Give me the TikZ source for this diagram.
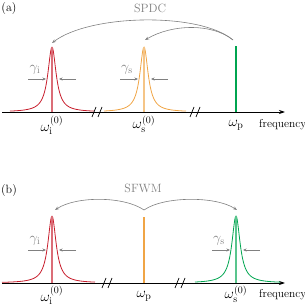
\documentclass[tikz,border=0pt]{standalone}
\usetikzlibrary{arrows.meta}
\definecolor{cidl}{RGB}{200,30,45}
\definecolor{csig}{RGB}{240,165,70}
\definecolor{cpmp}{RGB}{0,165,80}
\begin{document}
\begin{tikzpicture}[x=1pt, y=1pt,
  axis/.style={line width=0.8pt, -{Stealth[length=6pt, width=4pt]}},
  peakline/.style={line width=0.8pt},
  centerline/.style={line width=1.3pt},
  pumpline/.style={line width=2pt},
  gam/.style={gray, line width=0.6pt, -{Stealth[length=3.5pt, width=3pt]}},
  arc/.style={gray, line width=0.6pt, -{Stealth[length=4pt, width=3pt]}},
  brk/.style={line width=0.7pt},
  lbl/.style={inner sep=1pt},
  wlbl/.style={inner sep=0pt, anchor=north, font=\Large},
  glbl/.style={inner sep=0pt, gray, font=\Large},
  flbl/.style={inner sep=0pt, anchor=west, font=\fontsize{11.5}{13}\selectfont}
]
\useasboundingbox (0,0) rectangle (305,306);
% panel (a)
\node[lbl, font=\large] (tagA) at (9,297) {(a)};
\draw[axis] (2,194) -- (285,194);
\foreach \i/\xc/\col/\lo/\hi/\nm in {0/52/cidl/-42/42/i, 1/144/csig/-40/42/s} {
  \draw[peakline, \col, domain=\lo:\hi, samples=160] plot ({\xc+\x}, {194+65*25/(\x*\x+25)});
  \draw[centerline, \col!65] (\xc,194) -- (\xc,259);
  \draw[gam] (\xc-24,227) -- (\xc-6,227);
  \draw[gam] (\xc+24,227) -- (\xc+7,227);
  \node[glbl] (gA\nm) at (\xc-17,236) {$\gamma_{\mathrm{\nm}}$};
  \node[wlbl] (wA\nm) at (\xc,190) {$\omega_{\mathrm{\nm}}^{(0)}$};
}
\draw[pumpline, cpmp] (236,194) -- (236,260);
\node[wlbl] (wAp) at (236,186) {$\omega_{\mathrm{p}}$};
\node[flbl] (fA) at (259,181) {frequency};
\foreach \xb in {97,195} {
  \draw[brk] (\xb-5,189) -- (\xb-1,199);
  \draw[brk] (\xb+1,189) -- (\xb+5,199);
}
\coordinate (pA) at (233,266);
\coordinate (iA) at (52,263);
\coordinate (sA) at (145,266);
\draw[arc] (pA) .. controls (200,294) and (90,292) .. (iA);
\draw[arc] (pA) .. controls (212,283) and (172,282) .. (sA);
\node[glbl, font=\large] (spdc) at (150,298) {SPDC};
% panel (b)
\node[lbl, font=\large] (tagB) at (9,115) {(b)};
\draw[axis] (2,23) -- (285,23);
\foreach \i/\xc/\col/\lo/\hi/\nm in {0/52/cidl/-50/43/i, 1/236/cpmp/-41/44/s} {
  \draw[peakline, \col, domain=\lo:\hi, samples=160] plot ({\xc+\x}, {23+67*25/(\x*\x+25)});
  \draw[centerline, \col!65] (\xc,23) -- (\xc,90);
  \draw[gam] (\xc-24,56) -- (\xc-6,56);
  \draw[gam] (\xc+24,56) -- (\xc+7,56);
  \node[glbl] (gB\nm) at (\xc-17,65) {$\gamma_{\mathrm{\nm}}$};
  \node[wlbl] (wB\nm) at (\xc,20) {$\omega_{\mathrm{\nm}}^{(0)}$};
}
\draw[pumpline, csig] (144,23) -- (144,89);
\node[wlbl] (wBp) at (144,15) {$\omega_{\mathrm{p}}$};
\node[flbl] (fB) at (259,11) {frequency};
\foreach \xb in {107,180} {
  \draw[brk] (\xb-5,18) -- (\xb-1,28);
  \draw[brk] (\xb+1,18) -- (\xb+5,28);
}
\coordinate (pB) at (144,96);
\coordinate (iB) at (55,96);
\coordinate (sB) at (237,96);
\draw[arc] (pB) .. controls (124,110) and (76,110) .. (iB);
\draw[arc] (pB) .. controls (164,110) and (216,110) .. (sB);
\node[glbl, font=\large] (sfwm) at (143,118) {SFWM};
\end{tikzpicture}
\end{document}
